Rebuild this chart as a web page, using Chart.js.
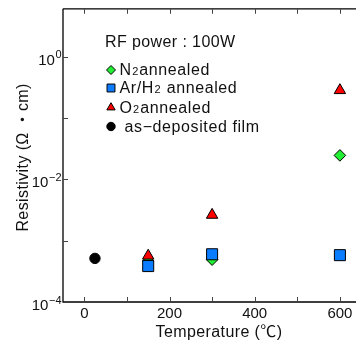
<!DOCTYPE html>
<html><head><meta charset="utf-8">
<script src="https://cdn.jsdelivr.net/npm/chart.js@4/dist/chart.umd.min.js"></script>
<style>
html,body{margin:0;padding:0;background:#fff;overflow:hidden;}
#wrap{width:356px;height:345px;overflow:hidden;position:relative;}
canvas{display:block;}
</style></head>
<body><div id="wrap"><canvas id="c" width="370" height="345"></canvas></div>
<script>
// ---- data ----
const n2Temp = [150, 300, 600];
const n2Res = [4.65e-4, 4.9e-4, 2.45e-2];
const arTemp = [150, 300, 600];
const arRes = [3.85e-4, 6.0e-4, 5.8e-4];
const o2Temp = [150, 300, 600];
const o2Res = [5.66e-4, 2.62e-3, 0.282];
const asdepTemp = [25];
const asdepRes = [5.14e-4];
const xTicks = [0, 100, 200, 300, 400, 500, 600];
const xLabels = [0, 200, 400, 600];
const yTicks = [1e-4, 1e-3, 1e-2, 1e-1, 1];
const yLabelExps = [-4, -2, 0];
const legendTitle = 'RF power : 100W';
const legendItems = [
  {main: 'N', sub: '2', rest: 'annealed'},
  {main: 'Ar/H', sub: '2', rest: ' annealed'},
  {main: 'O', sub: '2', rest: 'annealed'},
  {main: ' as\u2212deposited film', sub: '', rest: ''}
];
const xTitle = 'Temperature (\u2103)';
const yTitle = 'Resistivity (\u03A9 \u30FBcm)';

const FONT = '"Liberation Sans", Arial, "Noto Sans CJK JP", sans-serif';
const pts = (xs, ys) => xs.map((x, i) => ({x: x, y: ys[i]}));

const styles = {
  n2: {pointStyle: 'rectRot', backgroundColor: '#22ee33', radius: 5.8},
  ar: {pointStyle: 'rect', backgroundColor: '#0a7cff', radius: 7.8},
  o2: {pointStyle: 'triangle', backgroundColor: '#ff0000', radius: 6.6},
  as: {pointStyle: 'circle', backgroundColor: '#000000', radius: 5.2}
};

const frame = {
  id: 'frame',
  afterDraw(chart) {
    const ctx = chart.ctx, a = chart.chartArea;
    const xs = chart.scales.x, ys = chart.scales.y;
    ctx.save();
    ctx.strokeStyle = '#000';
    ctx.lineWidth = 1.3;
    ctx.beginPath();
    ctx.moveTo(a.left, a.top); ctx.lineTo(a.right, a.top);
    ctx.moveTo(a.left, a.top); ctx.lineTo(a.left, a.bottom);
    ctx.lineTo(a.right, a.bottom); ctx.lineTo(a.right, a.top);
    ctx.stroke();
    ctx.lineWidth = 1;
    ctx.strokeStyle = '#444';
    ctx.beginPath();
    xTicks.forEach(v => {
      const px = Math.round(xs.getPixelForValue(v)) + 0.5;
      ctx.moveTo(px, a.bottom); ctx.lineTo(px, a.bottom - 5);
      ctx.moveTo(px, a.top); ctx.lineTo(px, a.top + 5);
    });
    yTicks.forEach(v => {
      const py = Math.round(ys.getPixelForValue(v)) + 0.5;
      if (py > a.bottom - 1) return;
      ctx.moveTo(a.left, py); ctx.lineTo(a.left + 5, py);
    });
    ctx.stroke();
    // y tick labels with superscript
    ctx.fillStyle = '#111';
    yLabelExps.forEach(e => {
      const py = ys.getPixelForValue(Math.pow(10, e));
      const sup = e < 0 ? '\u2212' + Math.abs(e) : String(e);
      ctx.font = '11px ' + FONT;
      const sw = ctx.measureText(sup).width;
      ctx.font = '15px ' + FONT;
      const right = 61.5;
      ctx.textAlign = 'right'; ctx.textBaseline = 'alphabetic';
      ctx.fillText('10', right - sw - 0.5, py + 8);
      ctx.font = '11px ' + FONT;
      ctx.textAlign = 'left';
      ctx.fillText(sup, right - sw, py + 1.5);
    });
    // axis titles
    ctx.font = '16px ' + FONT;
    ctx.letterSpacing = '0.4px';
    ctx.textAlign = 'center'; ctx.textBaseline = 'middle';
    ctx.fillText(xTitle, 219, 333);
    ctx.save();
    ctx.translate(24, (a.top + a.bottom) / 2 + 2);
    ctx.rotate(-Math.PI / 2);
    ctx.fillText(yTitle, 0, 0);
    ctx.restore();
    // legend
    ctx.textAlign = 'left'; ctx.textBaseline = 'alphabetic';
    ctx.font = '16px ' + FONT;
    ctx.fillText(legendTitle, 105, 47.3);
    const keys = ['n2', 'ar', 'o2', 'as'];
    const ly = [70, 88, 107.5, 126.5];
    const lr = {n2: 4.5, ar: 5.6, o2: 4.8, as: 4.2};
    ctx.letterSpacing = '0.6px';
    keys.forEach((k, i) => {
      const s = styles[k];
      ctx.fillStyle = s.backgroundColor;
      ctx.strokeStyle = '#000';
      ctx.lineWidth = 1;
      Chart.helpers.drawPoint(ctx, {pointStyle: s.pointStyle, radius: lr[k], borderWidth: 1, rotation: 0}, 111, ly[i]);
      const it = legendItems[i];
      ctx.fillStyle = '#111';
      let x = 119.5;
      const base = ly[i] + 5;
      ctx.font = '16px ' + FONT;
      ctx.fillText(it.main, x, base);
      x += ctx.measureText(it.main).width + 0.5;
      if (it.sub) {
        ctx.font = '11px ' + FONT;
        ctx.fillText(it.sub, x, base);
        x += ctx.measureText(it.sub).width + 0.5;
      }
      ctx.font = '16px ' + FONT;
      ctx.fillText(it.rest, x, base);
    });
    ctx.restore();
  }
};

const mk = (label, data, s) => ({
  label, data,
  pointStyle: s.pointStyle,
  backgroundColor: s.backgroundColor,
  borderColor: '#000',
  borderWidth: 1,
  pointRadius: s.radius,
  pointHoverRadius: s.radius,
  showLine: false
});

new Chart(document.getElementById('c'), {
  type: 'scatter',
  data: {
    datasets: [
      mk('as-deposited film', pts(asdepTemp, asdepRes), styles.as),
      mk('Ar/H2 annealed', pts(arTemp, arRes), styles.ar),
      mk('O2 annealed', pts(o2Temp, o2Res), styles.o2),
      mk('N2 annealed', pts(n2Temp, n2Res), styles.n2)
    ]
  },
  options: {
    responsive: false,
    animation: false,
    events: [],
    layout: {padding: {top: 8, right: 6, left: 0, bottom: 0}},
    plugins: {legend: {display: false}, tooltip: {enabled: false}},
    scales: {
      x: {
        type: 'linear', min: -50, max: 650,
        afterBuildTicks: s => { s.ticks = xTicks.map(v => ({value: v})); },
        afterFit: s => { s.height = 43; },
        grid: {display: false, drawTicks: false},
        border: {display: false},
        ticks: {
          padding: 3,
          color: '#111',
          font: {family: FONT, size: 15},
          maxRotation: 0, autoSkip: false,
          callback: v => xLabels.includes(v) ? String(v) : ''
        }
      },
      y: {
        type: 'logarithmic', min: 1e-4, max: 6,
        afterBuildTicks: s => { s.ticks = yTicks.map(v => ({value: v})); },
        afterFit: s => { s.width = 63; },
        grid: {display: false, drawTicks: false},
        border: {display: false},
        ticks: {display: false}
      }
    }
  },
  plugins: [frame]
});
</script></body></html>
